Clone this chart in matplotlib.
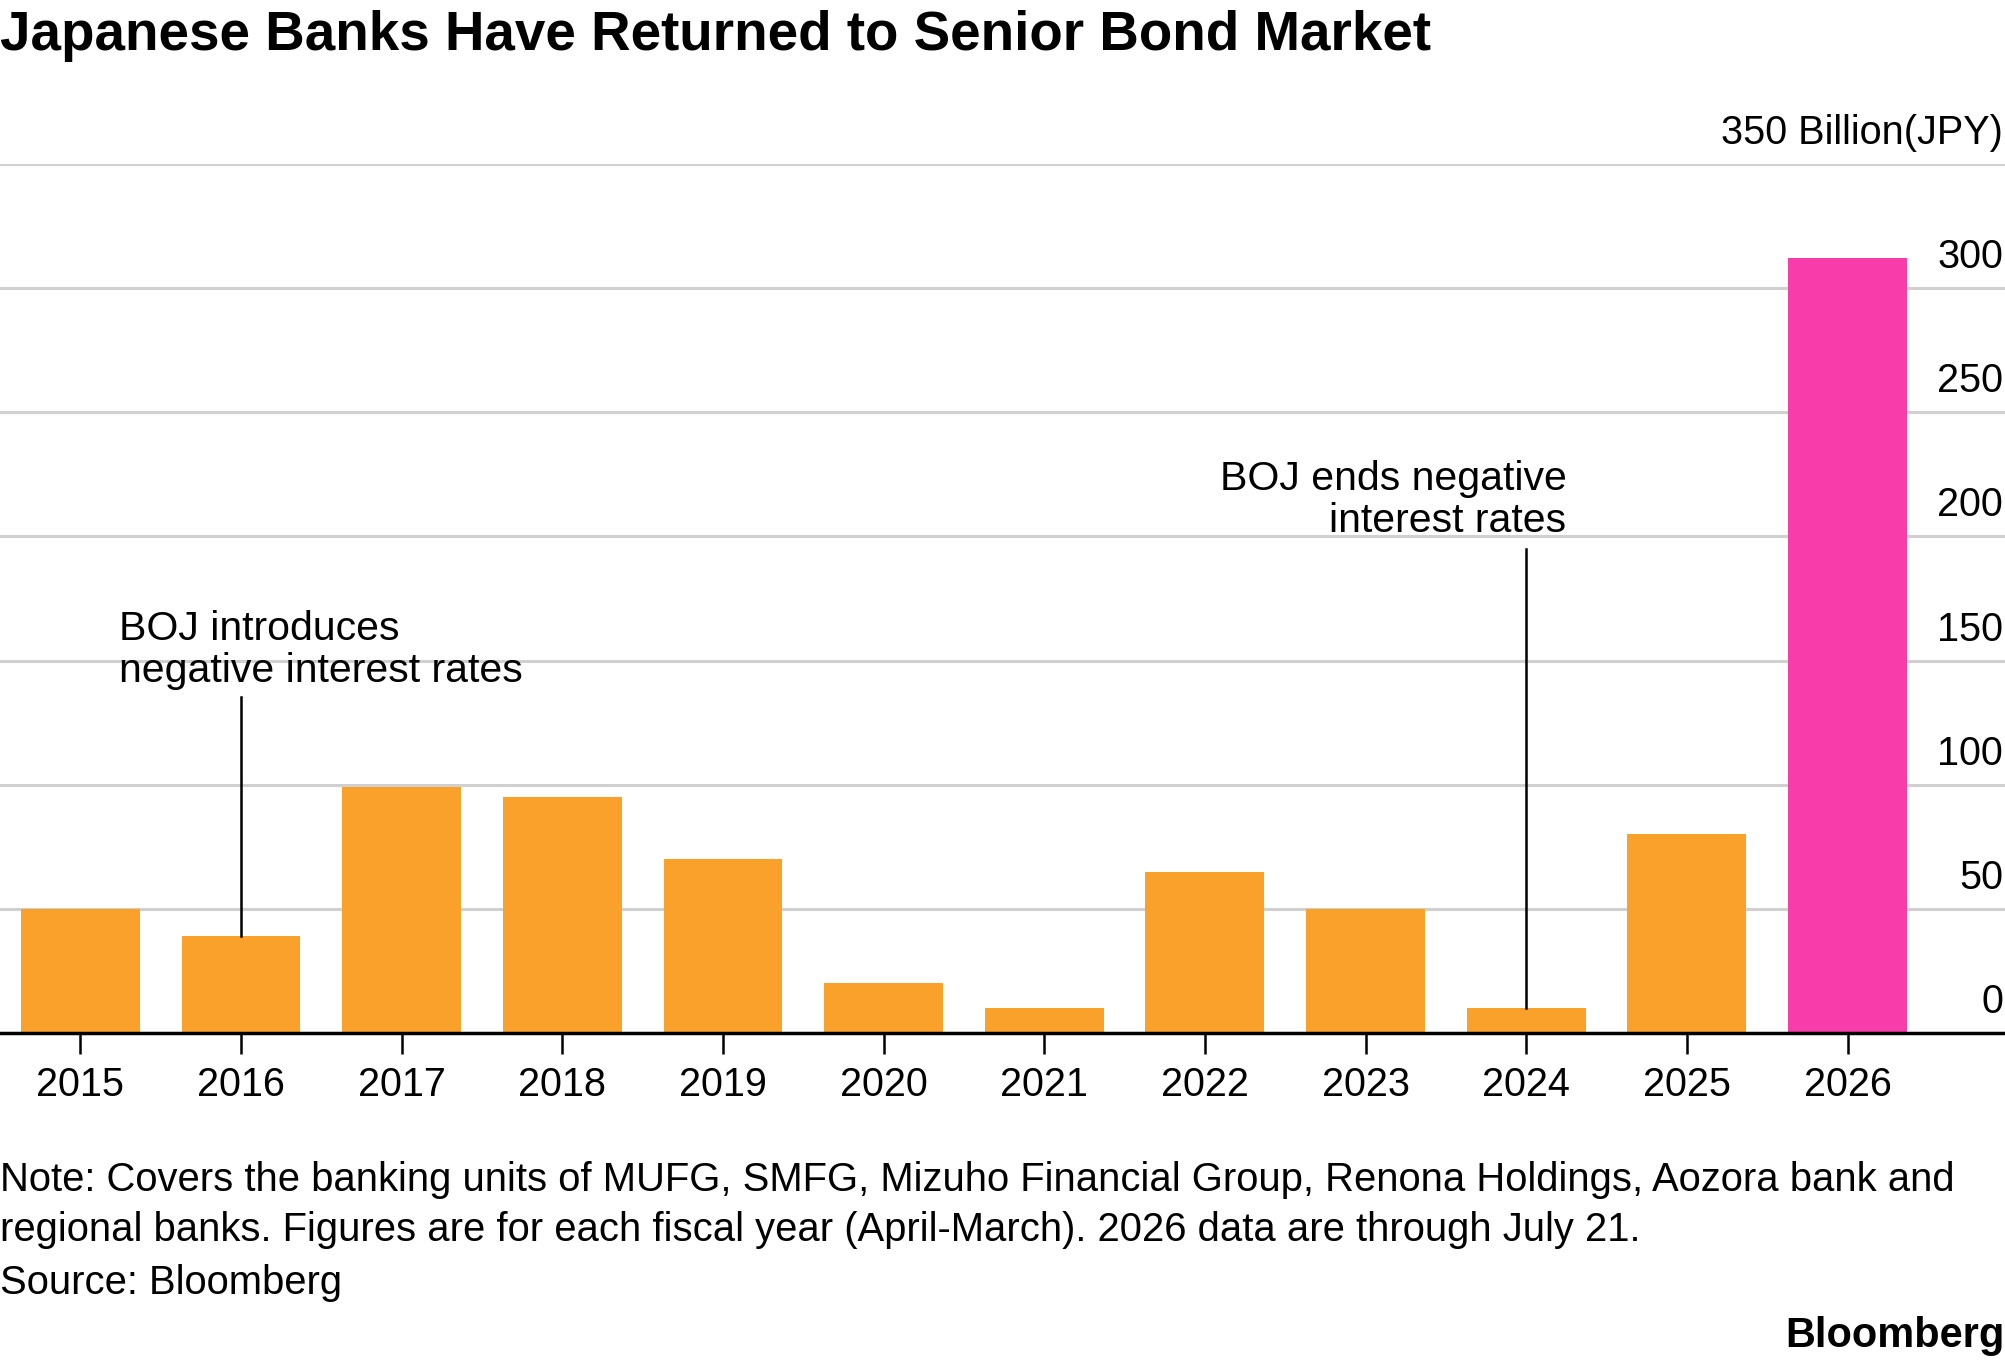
import matplotlib
matplotlib.use("Agg")
import matplotlib.pyplot as plt
import matplotlib.transforms as mtransforms

plt.rcParams['font.family'] = ['Liberation Sans', 'DejaVu Sans']

years = ['2015', '2016', '2017', '2018', '2019', '2020', '2021', '2022', '2023', '2024', '2025', '2026']
values = [50, 39, 99, 95, 70, 20, 10, 65, 50, 10, 80, 312]
highlight_year = '2026'
yticks = [0, 50, 100, 150, 200, 250, 300, 350]
ytick_labels = ['0', '50', '100', '150', '200', '250', '300', '350 Billion(JPY)']

title = "Japanese Banks Have Returned to Senior Bond Market"
note = ("Note: Covers the banking units of MUFG, SMFG, Mizuho Financial Group, Renona Holdings, Aozora bank and\n"
        "regional banks. Figures are for each fiscal year (April-March). 2026 data are through July 21.")
source = "Source: Bloomberg"
ann1_text = "BOJ introduces\nnegative interest rates"
ann1_year = '2016'
ann2_text = "BOJ ends negative\ninterest rates"
ann2_year = '2024'

ORANGE = '#F9A12B'
PINK = '#F83DAA'

W, H = 2005, 1362
fig = plt.figure(figsize=(W / 100, H / 100), dpi=100)
ax_left, ax_right = 0.0, 1.0
ax_bottom = (H - 1033) / H
ax_top = (H - 164) / H
ax = fig.add_axes([ax_left, ax_bottom, ax_right - ax_left, ax_top - ax_bottom])

x = list(range(len(years)))
colors = [PINK if y == highlight_year else ORANGE for y in years]
ax.bar(x, values, width=0.74, color=colors, zorder=2)

ax.set_xlim(-0.5, 11.98)
ax.set_ylim(0, 350)
ax.set_yticks(yticks)
ax.yaxis.grid(True, color='#d0d0d0', linewidth=2.2, zorder=0)
ax.tick_params(axis='y', length=0, labelleft=False, labelright=False)
for s in ['top', 'right', 'left']:
    ax.spines[s].set_visible(False)
ax.spines['bottom'].set_linewidth(2.5)
ax.spines['bottom'].set_color('black')
ax.spines['bottom'].set_zorder(3)
ax.set_xticks(x)
ax.set_xticklabels(years, fontsize=28.5)
ax.tick_params(axis='x', length=15, width=1.8, color='black', pad=9, direction='out')

# y labels, right aligned above gridlines
trans = mtransforms.blended_transform_factory(ax.transAxes, ax.transData)
trans_off = mtransforms.offset_copy(trans, fig=fig, x=-2, y=20, units='dots')
for v, lab in zip(yticks, ytick_labels):
    ax.text(1.0, v, lab, transform=trans_off, ha='right', va='baseline', fontsize=28.5)

# annotations
i1 = years.index(ann1_year)
ax.plot([i1, i1], [values[i1], 135.5], color='black', linewidth=1.8, zorder=3)
ax.text(i1 - 0.76, 138, ann1_text, ha='left', va='bottom', fontsize=29.5, linespacing=1.15)
i2 = years.index(ann2_year)
ax.plot([i2, i2], [values[i2], 195], color='black', linewidth=1.8, zorder=3)
ax.text(i2 + 0.25, 198.5, ann2_text, ha='right', va='bottom', fontsize=29.5, linespacing=1.15)

fig.text(0.0, 1 - 36 / H, title, ha='left', va='center', fontsize=39.4, fontweight='bold')
fig.text(0.0, 1 - 1205 / H, note, ha='left', va='center', fontsize=28.8, linespacing=1.39)
fig.text(0.0, 1 - 1283 / H, source, ha='left', va='center', fontsize=28.8)
fig.text(1.0, 1 - 1336 / H, "Bloomberg", ha='right', va='center', fontsize=29.9, fontweight='bold')

fig.savefig('out.png', dpi=100, facecolor='white')
